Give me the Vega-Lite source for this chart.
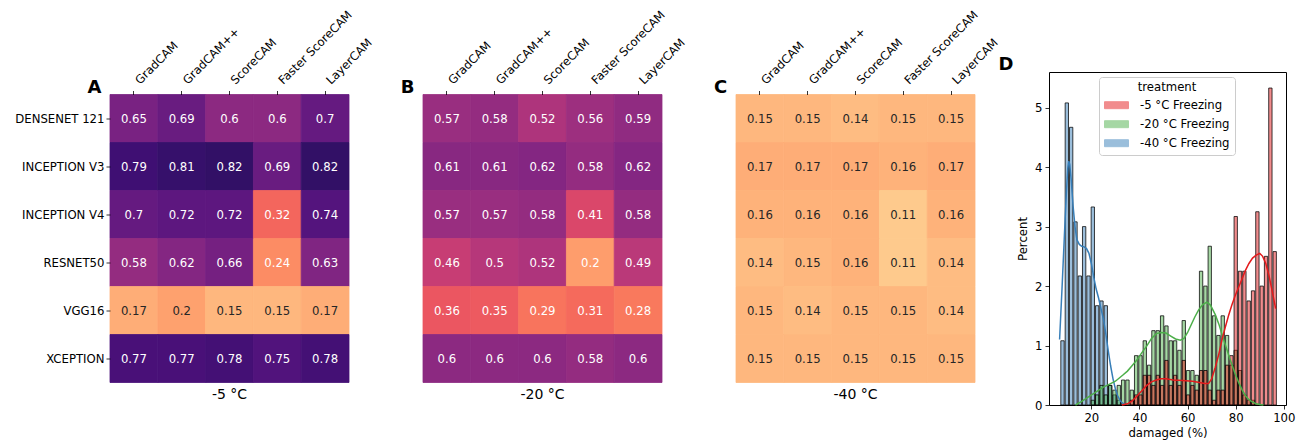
{
  "$schema": "https://vega.github.io/schema/vega-lite/v6.json",
  "padding": {"left": 14, "top": 8, "right": 5, "bottom": 5},
  "datasets": {
    "hm": [
      {"p":"A","m":"DENSENET 121","c":"GradCAM","v":0.65},{"p":"A","m":"DENSENET 121","c":"GradCAM++","v":0.69},{"p":"A","m":"DENSENET 121","c":"ScoreCAM","v":0.6},{"p":"A","m":"DENSENET 121","c":"Faster ScoreCAM","v":0.6},{"p":"A","m":"DENSENET 121","c":"LayerCAM","v":0.7},
      {"p":"A","m":"INCEPTION V3","c":"GradCAM","v":0.79},{"p":"A","m":"INCEPTION V3","c":"GradCAM++","v":0.81},{"p":"A","m":"INCEPTION V3","c":"ScoreCAM","v":0.82},{"p":"A","m":"INCEPTION V3","c":"Faster ScoreCAM","v":0.69},{"p":"A","m":"INCEPTION V3","c":"LayerCAM","v":0.82},
      {"p":"A","m":"INCEPTION V4","c":"GradCAM","v":0.7},{"p":"A","m":"INCEPTION V4","c":"GradCAM++","v":0.72},{"p":"A","m":"INCEPTION V4","c":"ScoreCAM","v":0.72},{"p":"A","m":"INCEPTION V4","c":"Faster ScoreCAM","v":0.32},{"p":"A","m":"INCEPTION V4","c":"LayerCAM","v":0.74},
      {"p":"A","m":"RESNET50","c":"GradCAM","v":0.58},{"p":"A","m":"RESNET50","c":"GradCAM++","v":0.62},{"p":"A","m":"RESNET50","c":"ScoreCAM","v":0.66},{"p":"A","m":"RESNET50","c":"Faster ScoreCAM","v":0.24},{"p":"A","m":"RESNET50","c":"LayerCAM","v":0.63},
      {"p":"A","m":"VGG16","c":"GradCAM","v":0.17},{"p":"A","m":"VGG16","c":"GradCAM++","v":0.196},{"p":"A","m":"VGG16","c":"ScoreCAM","v":0.15},{"p":"A","m":"VGG16","c":"Faster ScoreCAM","v":0.15},{"p":"A","m":"VGG16","c":"LayerCAM","v":0.17},
      {"p":"A","m":"XCEPTION","c":"GradCAM","v":0.77},{"p":"A","m":"XCEPTION","c":"GradCAM++","v":0.77},{"p":"A","m":"XCEPTION","c":"ScoreCAM","v":0.78},{"p":"A","m":"XCEPTION","c":"Faster ScoreCAM","v":0.75},{"p":"A","m":"XCEPTION","c":"LayerCAM","v":0.78},
      {"p":"B","m":"DENSENET 121","c":"GradCAM","v":0.57},{"p":"B","m":"DENSENET 121","c":"GradCAM++","v":0.58},{"p":"B","m":"DENSENET 121","c":"ScoreCAM","v":0.52},{"p":"B","m":"DENSENET 121","c":"Faster ScoreCAM","v":0.56},{"p":"B","m":"DENSENET 121","c":"LayerCAM","v":0.59},
      {"p":"B","m":"INCEPTION V3","c":"GradCAM","v":0.61},{"p":"B","m":"INCEPTION V3","c":"GradCAM++","v":0.61},{"p":"B","m":"INCEPTION V3","c":"ScoreCAM","v":0.62},{"p":"B","m":"INCEPTION V3","c":"Faster ScoreCAM","v":0.58},{"p":"B","m":"INCEPTION V3","c":"LayerCAM","v":0.62},
      {"p":"B","m":"INCEPTION V4","c":"GradCAM","v":0.57},{"p":"B","m":"INCEPTION V4","c":"GradCAM++","v":0.57},{"p":"B","m":"INCEPTION V4","c":"ScoreCAM","v":0.58},{"p":"B","m":"INCEPTION V4","c":"Faster ScoreCAM","v":0.41},{"p":"B","m":"INCEPTION V4","c":"LayerCAM","v":0.58},
      {"p":"B","m":"RESNET50","c":"GradCAM","v":0.46},{"p":"B","m":"RESNET50","c":"GradCAM++","v":0.5},{"p":"B","m":"RESNET50","c":"ScoreCAM","v":0.52},{"p":"B","m":"RESNET50","c":"Faster ScoreCAM","v":0.204},{"p":"B","m":"RESNET50","c":"LayerCAM","v":0.49},
      {"p":"B","m":"VGG16","c":"GradCAM","v":0.36},{"p":"B","m":"VGG16","c":"GradCAM++","v":0.35},{"p":"B","m":"VGG16","c":"ScoreCAM","v":0.29},{"p":"B","m":"VGG16","c":"Faster ScoreCAM","v":0.31},{"p":"B","m":"VGG16","c":"LayerCAM","v":0.28},
      {"p":"B","m":"XCEPTION","c":"GradCAM","v":0.6},{"p":"B","m":"XCEPTION","c":"GradCAM++","v":0.6},{"p":"B","m":"XCEPTION","c":"ScoreCAM","v":0.6},{"p":"B","m":"XCEPTION","c":"Faster ScoreCAM","v":0.58},{"p":"B","m":"XCEPTION","c":"LayerCAM","v":0.6},
      {"p":"C","m":"DENSENET 121","c":"GradCAM","v":0.15},{"p":"C","m":"DENSENET 121","c":"GradCAM++","v":0.15},{"p":"C","m":"DENSENET 121","c":"ScoreCAM","v":0.14},{"p":"C","m":"DENSENET 121","c":"Faster ScoreCAM","v":0.15},{"p":"C","m":"DENSENET 121","c":"LayerCAM","v":0.15},
      {"p":"C","m":"INCEPTION V3","c":"GradCAM","v":0.17},{"p":"C","m":"INCEPTION V3","c":"GradCAM++","v":0.17},{"p":"C","m":"INCEPTION V3","c":"ScoreCAM","v":0.17},{"p":"C","m":"INCEPTION V3","c":"Faster ScoreCAM","v":0.16},{"p":"C","m":"INCEPTION V3","c":"LayerCAM","v":0.17},
      {"p":"C","m":"INCEPTION V4","c":"GradCAM","v":0.16},{"p":"C","m":"INCEPTION V4","c":"GradCAM++","v":0.16},{"p":"C","m":"INCEPTION V4","c":"ScoreCAM","v":0.16},{"p":"C","m":"INCEPTION V4","c":"Faster ScoreCAM","v":0.11},{"p":"C","m":"INCEPTION V4","c":"LayerCAM","v":0.16},
      {"p":"C","m":"RESNET50","c":"GradCAM","v":0.14},{"p":"C","m":"RESNET50","c":"GradCAM++","v":0.15},{"p":"C","m":"RESNET50","c":"ScoreCAM","v":0.16},{"p":"C","m":"RESNET50","c":"Faster ScoreCAM","v":0.11},{"p":"C","m":"RESNET50","c":"LayerCAM","v":0.14},
      {"p":"C","m":"VGG16","c":"GradCAM","v":0.15},{"p":"C","m":"VGG16","c":"GradCAM++","v":0.14},{"p":"C","m":"VGG16","c":"ScoreCAM","v":0.15},{"p":"C","m":"VGG16","c":"Faster ScoreCAM","v":0.15},{"p":"C","m":"VGG16","c":"LayerCAM","v":0.14},
      {"p":"C","m":"XCEPTION","c":"GradCAM","v":0.15},{"p":"C","m":"XCEPTION","c":"GradCAM++","v":0.15},{"p":"C","m":"XCEPTION","c":"ScoreCAM","v":0.15},{"p":"C","m":"XCEPTION","c":"Faster ScoreCAM","v":0.15},{"p":"C","m":"XCEPTION","c":"LayerCAM","v":0.15}
    ],
    "hist": [
      {"t":"-40 °C Freezing","a":6.9,"b":8.7,"p":1.08},{"t":"-40 °C Freezing","a":8.7,"b":10.5,"p":5.08},{"t":"-40 °C Freezing","a":10.5,"b":12.3,"p":4.67},{"t":"-40 °C Freezing","a":12.3,"b":14.1,"p":3.08},{"t":"-40 °C Freezing","a":14.1,"b":15.9,"p":2.17},{"t":"-40 °C Freezing","a":15.9,"b":17.7,"p":3.0},{"t":"-40 °C Freezing","a":17.7,"b":19.5,"p":2.17},{"t":"-40 °C Freezing","a":19.5,"b":21.3,"p":3.33},{"t":"-40 °C Freezing","a":21.3,"b":23.1,"p":1.67},{"t":"-40 °C Freezing","a":23.1,"b":24.9,"p":1.75},{"t":"-40 °C Freezing","a":24.9,"b":26.7,"p":1.67},{"t":"-40 °C Freezing","a":26.7,"b":28.5,"p":0.33},{"t":"-40 °C Freezing","a":28.5,"b":30.3,"p":0.17},{"t":"-40 °C Freezing","a":30.3,"b":32.1,"p":0.08},
      {"t":"-20 °C Freezing","a":19.5,"b":21.3,"p":0.08},{"t":"-20 °C Freezing","a":21.3,"b":23.1,"p":0.17},{"t":"-20 °C Freezing","a":23.1,"b":24.9,"p":0.33},{"t":"-20 °C Freezing","a":24.9,"b":26.7,"p":0.17},{"t":"-20 °C Freezing","a":26.7,"b":28.5,"p":0.33},{"t":"-20 °C Freezing","a":28.5,"b":30.3,"p":0.25},{"t":"-20 °C Freezing","a":30.3,"b":32.1,"p":0.33},{"t":"-20 °C Freezing","a":32.1,"b":33.9,"p":0.42},{"t":"-20 °C Freezing","a":33.9,"b":35.7,"p":0.42},{"t":"-20 °C Freezing","a":35.7,"b":37.5,"p":0.25},{"t":"-20 °C Freezing","a":37.5,"b":39.3,"p":0.83},{"t":"-20 °C Freezing","a":39.3,"b":41.1,"p":0.83},{"t":"-20 °C Freezing","a":41.1,"b":42.9,"p":1.08},{"t":"-20 °C Freezing","a":42.9,"b":44.7,"p":0.67},{"t":"-20 °C Freezing","a":44.7,"b":46.5,"p":1.25},{"t":"-20 °C Freezing","a":46.5,"b":48.3,"p":1.25},{"t":"-20 °C Freezing","a":48.3,"b":50.1,"p":1.5},{"t":"-20 °C Freezing","a":50.1,"b":51.9,"p":1.33},{"t":"-20 °C Freezing","a":51.9,"b":53.7,"p":1.08},{"t":"-20 °C Freezing","a":53.7,"b":55.5,"p":1.08},{"t":"-20 °C Freezing","a":55.5,"b":57.3,"p":0.92},{"t":"-20 °C Freezing","a":57.3,"b":59.1,"p":1.42},{"t":"-20 °C Freezing","a":59.1,"b":60.9,"p":0.58},{"t":"-20 °C Freezing","a":60.9,"b":62.7,"p":0.58},{"t":"-20 °C Freezing","a":62.7,"b":64.5,"p":0.5},{"t":"-20 °C Freezing","a":64.5,"b":66.3,"p":2.25},{"t":"-20 °C Freezing","a":66.3,"b":68.1,"p":2.0},{"t":"-20 °C Freezing","a":68.1,"b":69.9,"p":2.67},{"t":"-20 °C Freezing","a":69.9,"b":71.7,"p":1.5},{"t":"-20 °C Freezing","a":71.7,"b":73.5,"p":1.17},{"t":"-20 °C Freezing","a":73.5,"b":75.3,"p":1.5},{"t":"-20 °C Freezing","a":75.3,"b":77.1,"p":1.17},{"t":"-20 °C Freezing","a":77.1,"b":78.9,"p":0.67},{"t":"-20 °C Freezing","a":78.9,"b":80.7,"p":0.92},{"t":"-20 °C Freezing","a":80.7,"b":82.5,"p":0.58},{"t":"-20 °C Freezing","a":82.5,"b":84.3,"p":0.17},{"t":"-20 °C Freezing","a":84.3,"b":86.1,"p":0.08},{"t":"-20 °C Freezing","a":86.1,"b":87.9,"p":0.08},
      {"t":"-5 °C Freezing","a":35.7,"b":37.5,"p":0.08},{"t":"-5 °C Freezing","a":37.5,"b":39.3,"p":0.17},{"t":"-5 °C Freezing","a":39.3,"b":41.1,"p":0.17},{"t":"-5 °C Freezing","a":41.1,"b":42.9,"p":0.5},{"t":"-5 °C Freezing","a":42.9,"b":44.7,"p":0.5},{"t":"-5 °C Freezing","a":44.7,"b":46.5,"p":0.33},{"t":"-5 °C Freezing","a":46.5,"b":48.3,"p":0.5},{"t":"-5 °C Freezing","a":48.3,"b":50.1,"p":0.33},{"t":"-5 °C Freezing","a":50.1,"b":51.9,"p":0.75},{"t":"-5 °C Freezing","a":51.9,"b":53.7,"p":0.33},{"t":"-5 °C Freezing","a":53.7,"b":55.5,"p":0.5},{"t":"-5 °C Freezing","a":55.5,"b":57.3,"p":0.33},{"t":"-5 °C Freezing","a":57.3,"b":59.1,"p":0.75},{"t":"-5 °C Freezing","a":59.1,"b":60.9,"p":0.17},{"t":"-5 °C Freezing","a":60.9,"b":62.7,"p":0.33},{"t":"-5 °C Freezing","a":62.7,"b":64.5,"p":0.25},{"t":"-5 °C Freezing","a":64.5,"b":66.3,"p":0.58},{"t":"-5 °C Freezing","a":66.3,"b":68.1,"p":0.58},{"t":"-5 °C Freezing","a":68.1,"b":69.9,"p":0.25},{"t":"-5 °C Freezing","a":69.9,"b":71.7,"p":0.08},{"t":"-5 °C Freezing","a":71.7,"b":73.5,"p":0.25},{"t":"-5 °C Freezing","a":73.5,"b":75.3,"p":0.25},{"t":"-5 °C Freezing","a":75.3,"b":77.1,"p":0.67},{"t":"-5 °C Freezing","a":77.1,"b":78.9,"p":0.83},{"t":"-5 °C Freezing","a":78.9,"b":80.7,"p":3.17},{"t":"-5 °C Freezing","a":80.7,"b":82.5,"p":2.25},{"t":"-5 °C Freezing","a":82.5,"b":84.3,"p":2.25},{"t":"-5 °C Freezing","a":84.3,"b":86.1,"p":1.75},{"t":"-5 °C Freezing","a":86.1,"b":87.9,"p":1.92},{"t":"-5 °C Freezing","a":87.9,"b":89.7,"p":3.25},{"t":"-5 °C Freezing","a":89.7,"b":91.5,"p":2.0},{"t":"-5 °C Freezing","a":91.5,"b":93.3,"p":2.5},{"t":"-5 °C Freezing","a":93.3,"b":95.1,"p":5.33},{"t":"-5 °C Freezing","a":95.1,"b":96.9,"p":2.58}
    ],
    "kde": [
      {"t":"-40 °C Freezing","x":6.8,"d":1.1},{"t":"-40 °C Freezing","x":7.8,"d":1.95},{"t":"-40 °C Freezing","x":8.8,"d":2.85},{"t":"-40 °C Freezing","x":9.6,"d":3.55},{"t":"-40 °C Freezing","x":10.2,"d":3.98},{"t":"-40 °C Freezing","x":10.6,"d":4.1},{"t":"-40 °C Freezing","x":11.0,"d":4.05},{"t":"-40 °C Freezing","x":11.6,"d":3.8},{"t":"-40 °C Freezing","x":12.4,"d":3.35},{"t":"-40 °C Freezing","x":13.2,"d":3.0},{"t":"-40 °C Freezing","x":14.0,"d":2.78},{"t":"-40 °C Freezing","x":15.0,"d":2.7},{"t":"-40 °C Freezing","x":16.0,"d":2.67},{"t":"-40 °C Freezing","x":17.0,"d":2.66},{"t":"-40 °C Freezing","x":18.0,"d":2.63},{"t":"-40 °C Freezing","x":19.0,"d":2.55},{"t":"-40 °C Freezing","x":20.0,"d":2.38},{"t":"-40 °C Freezing","x":21.0,"d":2.15},{"t":"-40 °C Freezing","x":22.0,"d":1.95},{"t":"-40 °C Freezing","x":23.0,"d":1.8},{"t":"-40 °C Freezing","x":24.0,"d":1.62},{"t":"-40 °C Freezing","x":25.0,"d":1.45},{"t":"-40 °C Freezing","x":26.0,"d":1.2},{"t":"-40 °C Freezing","x":27.0,"d":0.92},{"t":"-40 °C Freezing","x":28.0,"d":0.66},{"t":"-40 °C Freezing","x":29.0,"d":0.44},{"t":"-40 °C Freezing","x":30.0,"d":0.27},{"t":"-40 °C Freezing","x":31.0,"d":0.15},{"t":"-40 °C Freezing","x":32.0,"d":0.07},{"t":"-40 °C Freezing","x":33.0,"d":0.03},{"t":"-40 °C Freezing","x":34.0,"d":0.01},
      {"t":"-20 °C Freezing","x":13.4,"d":0.0},{"t":"-20 °C Freezing","x":16,"d":0.06},{"t":"-20 °C Freezing","x":19,"d":0.14},{"t":"-20 °C Freezing","x":22,"d":0.22},{"t":"-20 °C Freezing","x":25,"d":0.3},{"t":"-20 °C Freezing","x":28,"d":0.36},{"t":"-20 °C Freezing","x":30,"d":0.4},{"t":"-20 °C Freezing","x":33,"d":0.5},{"t":"-20 °C Freezing","x":35,"d":0.57},{"t":"-20 °C Freezing","x":36.9,"d":0.66},{"t":"-20 °C Freezing","x":39,"d":0.76},{"t":"-20 °C Freezing","x":41,"d":0.88},{"t":"-20 °C Freezing","x":43,"d":0.99},{"t":"-20 °C Freezing","x":45,"d":1.12},{"t":"-20 °C Freezing","x":47,"d":1.2},{"t":"-20 °C Freezing","x":49,"d":1.22},{"t":"-20 °C Freezing","x":51,"d":1.21},{"t":"-20 °C Freezing","x":53,"d":1.16},{"t":"-20 °C Freezing","x":55,"d":1.11},{"t":"-20 °C Freezing","x":57,"d":1.09},{"t":"-20 °C Freezing","x":58.5,"d":1.12},{"t":"-20 °C Freezing","x":60,"d":1.22},{"t":"-20 °C Freezing","x":61.5,"d":1.35},{"t":"-20 °C Freezing","x":63,"d":1.48},{"t":"-20 °C Freezing","x":64.6,"d":1.6},{"t":"-20 °C Freezing","x":66.3,"d":1.69},{"t":"-20 °C Freezing","x":68,"d":1.73},{"t":"-20 °C Freezing","x":69.5,"d":1.68},{"t":"-20 °C Freezing","x":71.5,"d":1.52},{"t":"-20 °C Freezing","x":73,"d":1.36},{"t":"-20 °C Freezing","x":74.2,"d":1.2},{"t":"-20 °C Freezing","x":75.6,"d":1.02},{"t":"-20 °C Freezing","x":77,"d":0.85},{"t":"-20 °C Freezing","x":78.4,"d":0.68},{"t":"-20 °C Freezing","x":79.8,"d":0.52},{"t":"-20 °C Freezing","x":81.2,"d":0.38},{"t":"-20 °C Freezing","x":82.6,"d":0.26},{"t":"-20 °C Freezing","x":84,"d":0.16},{"t":"-20 °C Freezing","x":85.5,"d":0.09},{"t":"-20 °C Freezing","x":87,"d":0.05},{"t":"-20 °C Freezing","x":88.5,"d":0.02},{"t":"-20 °C Freezing","x":90,"d":0.01},{"t":"-20 °C Freezing","x":91.5,"d":0.0},
      {"t":"-5 °C Freezing","x":32.7,"d":0.0},{"t":"-5 °C Freezing","x":35,"d":0.02},{"t":"-5 °C Freezing","x":37,"d":0.07},{"t":"-5 °C Freezing","x":39,"d":0.15},{"t":"-5 °C Freezing","x":41,"d":0.24},{"t":"-5 °C Freezing","x":43,"d":0.33},{"t":"-5 °C Freezing","x":45,"d":0.39},{"t":"-5 °C Freezing","x":47,"d":0.42},{"t":"-5 °C Freezing","x":49,"d":0.44},{"t":"-5 °C Freezing","x":51,"d":0.44},{"t":"-5 °C Freezing","x":54,"d":0.42},{"t":"-5 °C Freezing","x":58,"d":0.41},{"t":"-5 °C Freezing","x":62,"d":0.4},{"t":"-5 °C Freezing","x":65,"d":0.38},{"t":"-5 °C Freezing","x":67,"d":0.36},{"t":"-5 °C Freezing","x":68.7,"d":0.36},{"t":"-5 °C Freezing","x":70,"d":0.44},{"t":"-5 °C Freezing","x":71.5,"d":0.63},{"t":"-5 °C Freezing","x":73,"d":0.86},{"t":"-5 °C Freezing","x":74.2,"d":1.08},{"t":"-5 °C Freezing","x":75.6,"d":1.3},{"t":"-5 °C Freezing","x":77,"d":1.5},{"t":"-5 °C Freezing","x":78.4,"d":1.68},{"t":"-5 °C Freezing","x":79.8,"d":1.84},{"t":"-5 °C Freezing","x":81.2,"d":1.98},{"t":"-5 °C Freezing","x":82.6,"d":2.12},{"t":"-5 °C Freezing","x":84,"d":2.26},{"t":"-5 °C Freezing","x":85.5,"d":2.38},{"t":"-5 °C Freezing","x":87,"d":2.47},{"t":"-5 °C Freezing","x":88.5,"d":2.52},{"t":"-5 °C Freezing","x":90,"d":2.55},{"t":"-5 °C Freezing","x":91.2,"d":2.5},{"t":"-5 °C Freezing","x":92.5,"d":2.38},{"t":"-5 °C Freezing","x":93.8,"d":2.18},{"t":"-5 °C Freezing","x":95,"d":1.95},{"t":"-5 °C Freezing","x":96.6,"d":1.62}
    ]
  },
  "hconcat": [
    {
      "width": 239, "height": 288,
      "data": {"name": "hm"},
      "transform": [{"filter": "datum.p == 'A'"}],
      "title": {"text": "-5 °C", "orient": "bottom", "fontSize": 14, "fontWeight": "normal", "offset": 5, "baseline": "top", "color": "black"},
      "encoding": {
        "x": {"field": "c", "type": "nominal", "sort": ["GradCAM","GradCAM++","ScoreCAM","Faster ScoreCAM","LayerCAM"], "scale": {"paddingInner": 0, "paddingOuter": 0},
              "axis": {"orient": "top", "title": null, "labelAngle": -45, "labelAlign": "left", "labelBaseline": "alphabetic", "labelPadding": 6, "labelOffset": 6, "tickSize": 4, "domain": false}},
        "y": {"field": "m", "type": "nominal", "sort": ["DENSENET 121","INCEPTION V3","INCEPTION V4","RESNET50","VGG16","XCEPTION"], "scale": {"paddingInner": 0, "paddingOuter": 0},
              "axis": {"title": "A", "titleAngle": 0, "titleX": -16, "titleY": -2, "titleFontSize": 18, "titleFontWeight": "bold", "titleAlign": "center", "titleBaseline": "alphabetic", "tickSize": 4, "domain": false, "labelPadding": 2}}
      },
      "layer": [
        {"mark": {"type": "rect", "strokeWidth": 0.8}, "encoding": {
          "color": {"field": "v", "type": "quantitative", "scale": {"scheme": {"name": "magma", "extent": [1, 0]}, "domain": [0, 1]}, "legend": null},
          "stroke": {"field": "v", "type": "quantitative", "scale": {"scheme": {"name": "magma", "extent": [1, 0]}, "domain": [0, 1]}, "legend": null}}},
        {"mark": {"type": "text", "fontSize": 11.7}, "encoding": {"text": {"field": "v", "type": "quantitative", "format": ".2~g"}, "color": {"condition": {"test": "datum.v < 0.2", "value": "#262626"}, "value": "white"}}}
      ]
    },
    {
      "width": 239, "height": 288,
      "data": {"name": "hm"},
      "transform": [{"filter": "datum.p == 'B'"}],
      "title": {"text": "-20 °C", "orient": "bottom", "fontSize": 14, "fontWeight": "normal", "offset": 5, "baseline": "top", "color": "black"},
      "encoding": {
        "x": {"field": "c", "type": "nominal", "sort": ["GradCAM","GradCAM++","ScoreCAM","Faster ScoreCAM","LayerCAM"], "scale": {"paddingInner": 0, "paddingOuter": 0},
              "axis": {"orient": "top", "title": null, "labelAngle": -45, "labelAlign": "left", "labelBaseline": "alphabetic", "labelPadding": 6, "labelOffset": 6, "tickSize": 4, "domain": false}},
        "y": {"field": "m", "type": "nominal", "sort": ["DENSENET 121","INCEPTION V3","INCEPTION V4","RESNET50","VGG16","XCEPTION"], "scale": {"paddingInner": 0, "paddingOuter": 0},
              "axis": {"title": "B", "titleAngle": 0, "titleX": -16, "titleY": -2, "titleFontSize": 18, "titleFontWeight": "bold", "titleAlign": "center", "titleBaseline": "alphabetic", "labels": false, "ticks": false, "domain": false}}
      },
      "layer": [
        {"mark": {"type": "rect", "strokeWidth": 0.8}, "encoding": {
          "color": {"field": "v", "type": "quantitative", "scale": {"scheme": {"name": "magma", "extent": [1, 0]}, "domain": [0, 1]}, "legend": null},
          "stroke": {"field": "v", "type": "quantitative", "scale": {"scheme": {"name": "magma", "extent": [1, 0]}, "domain": [0, 1]}, "legend": null}}},
        {"mark": {"type": "text", "fontSize": 11.7}, "encoding": {"text": {"field": "v", "type": "quantitative", "format": ".2~g"}, "color": {"condition": {"test": "datum.v < 0.2", "value": "#262626"}, "value": "white"}}}
      ]
    },
    {
      "width": 239, "height": 288,
      "data": {"name": "hm"},
      "transform": [{"filter": "datum.p == 'C'"}],
      "title": {"text": "-40 °C", "orient": "bottom", "fontSize": 14, "fontWeight": "normal", "offset": 5, "baseline": "top", "color": "black"},
      "encoding": {
        "x": {"field": "c", "type": "nominal", "sort": ["GradCAM","GradCAM++","ScoreCAM","Faster ScoreCAM","LayerCAM"], "scale": {"paddingInner": 0, "paddingOuter": 0},
              "axis": {"orient": "top", "title": null, "labelAngle": -45, "labelAlign": "left", "labelBaseline": "alphabetic", "labelPadding": 6, "labelOffset": 6, "tickSize": 4, "domain": false}},
        "y": {"field": "m", "type": "nominal", "sort": ["DENSENET 121","INCEPTION V3","INCEPTION V4","RESNET50","VGG16","XCEPTION"], "scale": {"paddingInner": 0, "paddingOuter": 0},
              "axis": {"title": "C", "titleAngle": 0, "titleX": -16, "titleY": -2, "titleFontSize": 18, "titleFontWeight": "bold", "titleAlign": "center", "titleBaseline": "alphabetic", "labels": false, "ticks": false, "domain": false}}
      },
      "layer": [
        {"mark": {"type": "rect", "strokeWidth": 0.8}, "encoding": {
          "color": {"field": "v", "type": "quantitative", "scale": {"scheme": {"name": "magma", "extent": [1, 0]}, "domain": [0, 1]}, "legend": null},
          "stroke": {"field": "v", "type": "quantitative", "scale": {"scheme": {"name": "magma", "extent": [1, 0]}, "domain": [0, 1]}, "legend": null}}},
        {"mark": {"type": "text", "fontSize": 11.7}, "encoding": {"text": {"field": "v", "type": "quantitative", "format": ".2~g"}, "color": {"condition": {"test": "datum.v < 0.2", "value": "#262626"}, "value": "white"}}}
      ]
    },
    {
      "width": 237, "height": 333,
      "view": {"stroke": "black", "strokeWidth": 1},
      "title": {"text": "D", "anchor": "start", "dx": -19, "dy": 20, "fontSize": 18, "fontWeight": "bold", "offset": 4, "baseline": "alphabetic", "color": "black"},
      "layer": [
        {
          "data": {"name": "hist"},
          "mark": {"type": "bar", "fillOpacity": 0.5, "stroke": "black", "strokeWidth": 1, "strokeOpacity": 0.75},
          "encoding": {
            "x": {"field": "a", "type": "quantitative", "bin": "binned", "scale": {"domain": [2.4, 100.9], "nice": false, "zero": false},
                  "axis": {"title": "damaged (%)", "values": [20, 40, 60, 80, 100], "format": "d", "grid": false, "domain": false, "tickSize": 4, "labelPadding": 3, "titlePadding": 4}},
            "x2": {"field": "b"},
            "y": {"field": "p", "type": "quantitative", "stack": null, "scale": {"domain": [0, 5.6], "nice": false},
                  "axis": {"title": "Percent", "values": [0, 1, 2, 3, 4, 5], "format": "d", "grid": false, "domain": false, "tickSize": 4, "labelPadding": 3, "titlePadding": 6}},
            "fill": {"field": "t", "type": "nominal",
                     "scale": {"domain": ["-5 °C Freezing", "-20 °C Freezing", "-40 °C Freezing"], "range": ["#e41a1c", "#4daf4a", "#377eb8"]},
                     "legend": {"title": "treatment", "orient": "none", "legendX": 50, "legendY": 5, "titleAnchor": "middle", "titleFontWeight": "normal", "titleFontSize": 11.7, "labelFontSize": 11.7, "titleColor": "black", "labelColor": "black",
                                "symbolType": "M-1,-0.29H1V0.29H-1Z", "symbolSize": 576, "symbolStrokeColor": "black", "symbolStrokeWidth": 1, "symbolOpacity": 0.5,
                                "labelOffset": 11, "padding": 5, "strokeColor": "#cccccc", "cornerRadius": 3, "fillColor": "rgba(255,255,255,0.8)", "clipHeight": 13, "rowPadding": 5, "titlePadding": 5}}
          }
        },
        {
          "data": {"name": "kde"},
          "mark": {"type": "line", "strokeWidth": 1.5},
          "encoding": {
            "x": {"field": "x", "type": "quantitative"},
            "y": {"field": "d", "type": "quantitative"},
            "stroke": {"field": "t", "type": "nominal", "scale": {"domain": ["-5 °C Freezing", "-20 °C Freezing", "-40 °C Freezing"], "range": ["#e41a1c", "#4daf4a", "#377eb8"]}, "legend": null}
          }
        }
      ]
    }
  ],
  "spacing": 74,
  "bounds": "flush",
  "center": true,
  "resolve": {"scale": {"color": "independent", "fill": "independent", "stroke": "independent", "x": "independent", "y": "independent"}},
  "config": {
    "font": "DejaVu Sans",
    "view": {"stroke": null},
    "axis": {"labelColor": "black", "titleColor": "black", "tickColor": "black", "labelFontSize": 11.7, "titleFontSize": 11.7, "titleFontWeight": "normal", "tickWidth": 0.8},
    "title": {"color": "black"}
  }
}
